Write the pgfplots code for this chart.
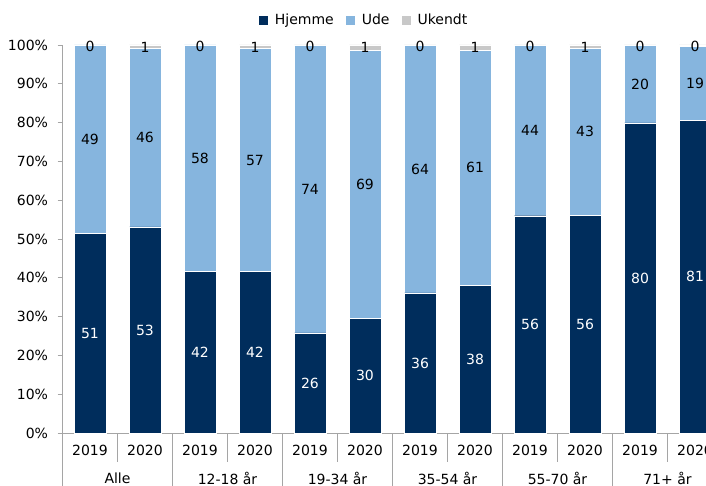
\documentclass[border=0pt]{standalone}
\usepackage{fontspec}
\setmainfont{DejaVu Sans}
\usepackage{pgfplots}
\pgfplotsset{compat=1.18}
\usepackage{pgfplotstable}
\definecolor{navy}{RGB}{0,45,92}
\definecolor{lblue}{RGB}{134,181,222}
\definecolor{lgray}{RGB}{200,200,200}
\definecolor{axgray}{RGB}{165,165,165}
\newcommand{\fsz}{\fontsize{14bp}{17bp}\selectfont}

\pgfplotstableread{
x H U K
0 51.4 48.6 0.0
1 53.1 46.1 0.8
2 41.6 58.4 0.0
3 41.6 57.5 0.9
4 25.8 74.1 0.1
5 29.6 69.1 1.3
6 36.1 63.8 0.1
7 38.1 60.6 1.3
8 56.0 43.9 0.1
9 56.1 43.1 0.8
10 79.9 20.0 0.1
11 80.6 19.0 0.4
}\bars

\pgfplotstableread{
x y lab
0 25.7 51
1 26.55 53
2 20.8 42
3 20.8 42
4 12.9 26
5 14.8 30
6 18.05 36
7 19.05 38
8 28.0 56
9 28.05 56
10 39.95 80
11 40.3 81
}\labH

\pgfplotstableread{
x y lab
0 75.7 49
1 76.15 46
2 70.8 58
3 70.35 57
4 62.85 74
5 64.15 69
6 68.0 64
7 68.4 61
8 77.95 44
9 77.65 43
10 89.9 20
11 90.1 19
}\labU

\pgfplotstableread{
x y lab
0 99.6 0
1 99.4 1
2 99.6 0
3 99.4 1
4 99.6 0
5 99.4 1
6 99.6 0
7 99.4 1
8 99.6 0
9 99.4 1
10 99.6 0
11 99.6 0
}\labK

\pgfplotsset{
  sq/.style={legend image code/.code={\fill[##1,draw=none] (0bp,-4.5bp) rectangle (9bp,4.5bp);}},
  common/.style={
    at={(0,0)}, anchor=south west,
    scale only axis, width=660bp, height=388bp,
    xmin=-0.5, xmax=11.5, ymin=0, ymax=100,
    clip=false,
  }
}

\begin{document}
\begin{tikzpicture}[font=\fsz]
\begin{axis}[
  common,
  ybar stacked, bar width=31.5bp,
  axis x line=bottom, axis y line=left,
  axis line style={draw=axgray,line width=0.8bp,-},
  ytick={0,10,...,100},
  yticklabel={\pgfmathprintnumber{\tick}\%},
  y tick label style={font=\fsz, xshift=-6bp, /pgf/number format/assume math mode=true},
  ytick style={draw=axgray,line width=0.8bp},
  tick align=outside,
  major tick length=5bp,
  xtick={0,...,11},
  xticklabels={2019,2020,2019,2020,2019,2020,2019,2020,2019,2020,2019,2020},
  x tick label style={font=\fsz, yshift=-4bp, /pgf/number format/assume math mode=true},
  xtick style={draw=none},
  extra x ticks={0.5,2.5,4.5,6.5,8.5,10.5},
  extra x tick labels={Alle,12-18 år,19-34 år,35-54 år,55-70 år,71+ år},
  extra x tick style={xtick style={draw=none}, tick label style={font=\fsz, yshift=-27bp}},
  legend columns=3,
  legend style={at={(0.457,1.064)}, anchor=center, draw=none, fill=none, font=\fsz,
    /tikz/every odd column/.append style={column sep=5bp},
    /tikz/every even column/.append style={column sep=10bp}},
]
\addplot[sq, fill=navy, draw=white, line width=0.4bp] table[x=x,y=H] {\bars};
\addplot[sq, fill=lblue, draw=white, line width=0.4bp] table[x=x,y=U] {\bars};
\addplot[sq, fill=lgray, draw=white, line width=0.4bp] table[x=x,y=K] {\bars};
\legend{Hjemme,Ude,Ukendt}
\pgfplotsinvokeforeach{0.5,2.5,4.5,6.5,8.5,10.5}{
  \draw[axgray, line width=0.8bp] (axis cs:#1,0) -- ++(0bp,-29bp);
}
\pgfplotsinvokeforeach{-0.5,1.5,3.5,5.5,7.5,9.5,11.5}{
  \draw[axgray, line width=0.8bp] (axis cs:#1,0) -- ++(0bp,-53bp);
}
\end{axis}
\begin{axis}[common, hide axis]
\addplot[only marks, mark=none, nodes near coords, point meta=explicit symbolic,
  every node near coord/.append style={anchor=center, font=\fsz, text=white}]
  table[x=x,y=y,meta=lab] {\labH};
\addplot[only marks, mark=none, nodes near coords, point meta=explicit symbolic,
  every node near coord/.append style={anchor=center, font=\fsz, text=black}]
  table[x=x,y=y,meta=lab] {\labU};
\addplot[only marks, mark=none, nodes near coords, point meta=explicit symbolic,
  every node near coord/.append style={anchor=center, font=\fsz, text=black}]
  table[x=x,y=y,meta=lab] {\labK};
\end{axis}
\pgfresetboundingbox
\path[use as bounding box] (-62.5bp,-53bp) rectangle (643.5bp,433bp);
\end{tikzpicture}
\end{document}
